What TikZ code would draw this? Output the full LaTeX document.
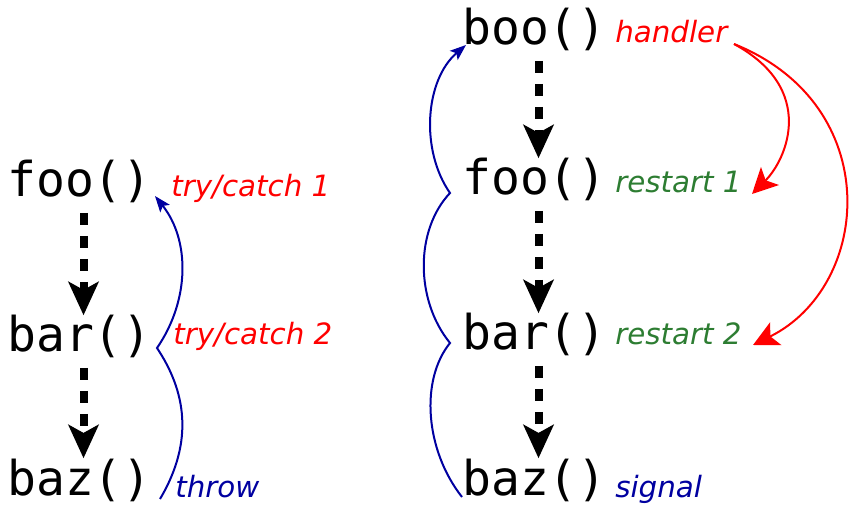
\documentclass[tikz,border=0pt]{standalone}
\usepackage{fontspec}
\setmainfont{DejaVu Sans}
\newfontfamily\codefont{DejaVu Sans Mono}
\usetikzlibrary{arrows.meta}
\definecolor{errred}{RGB}{255,0,0}
\definecolor{okgreen}{RGB}{45,125,50}
\definecolor{sigblue}{RGB}{0,0,160}
\begin{document}
\begin{tikzpicture}[x=0.75pt,y=-0.75pt,
  fn/.style={anchor=base west,inner sep=0pt,font=\codefont\fontsize{36}{40}\selectfont},
  lab/.style={anchor=base west,inner sep=0pt,font=\itshape\fontsize{22}{26}\selectfont},
  call/.style={line width=6pt,dash pattern=on 9pt off 8.25pt,
    -{Stealth[length=25pt,width=22.5pt,inset=6pt]},shorten <=7pt},
  unwind/.style={sigblue,line width=1.5pt,-{Stealth[length=12pt,width=9pt,inset=2.5pt]}},
  restart/.style={errred,line width=1.5pt,-{Stealth[length=19pt,width=19pt,inset=4.5pt]}}]
\useasboundingbox (0,0) rectangle (849,505);

% exceptions: try/catch stack
\node[fn] (foo) at (7,197) {foo()};
\node[fn] (bar) at (7,352) {bar()};
\node[fn] (baz) at (7,495) {baz()};
\node[lab,errred] (tc1) at (171,197) {try/catch 1};
\node[lab,errred] (tc2) at (173,345) {try/catch 2};
\node[lab,sigblue] (thr) at (175,497) {throw};

\draw[call] ([xshift=3pt]foo.south) -- ([xshift=3pt]bar.north);
\draw[call] ([xshift=3pt]bar.south) -- ([xshift=3pt]baz.north);

\coordinate (thrA) at (160,499);
\coordinate (thrB) at (157,348);
\coordinate (thrC) at (155,196);
\draw[unwind] (thrA) .. controls (195,440) and (185,390) .. (thrB)
  .. controls (190,300) and (190,240) .. (thrC);

% conditions: handler and restarts
\node[fn] (boo2) at (462,45) {boo()};
\node[fn] (foo2) at (462,195) {foo()};
\node[fn] (bar2) at (462,350) {bar()};
\node[fn] (baz2) at (462,495) {baz()};
\node[lab,errred] (hdl) at (615,43) {handler};
\node[lab,okgreen] (rs1) at (615,193) {restart 1};
\node[lab,okgreen] (rs2) at (615,345) {restart 2};
\node[lab,sigblue] (sig) at (615,497) {signal};

\draw[call] ([xshift=3pt]boo2.south) -- ([xshift=3pt]foo2.north);
\draw[call] ([xshift=3pt]foo2.south) -- ([xshift=3pt]bar2.north);
\draw[call] ([xshift=3pt]bar2.south) -- ([xshift=3pt]baz2.north);

\coordinate (sigA) at (462,497);
\coordinate (sigB) at (450,343);
\coordinate (sigC) at (450,193);
\coordinate (sigD) at (466,45);
\draw[unwind] (sigA) .. controls (425,450) and (420,380) .. (sigB)
  .. controls (415,300) and (415,230) .. (sigC)
  .. controls (420,150) and (425,80) .. (sigD);

\coordinate (hdlA) at (734,44);
\coordinate (rs1T) at (752,194);
\coordinate (rs2T) at (753,345);
\draw[restart] (hdlA) .. controls (817,89) and (787,159) .. (rs1T);
\draw[restart] (hdlA) .. controls (886,105) and (872,286) .. (rs2T);
\end{tikzpicture}
\end{document}
